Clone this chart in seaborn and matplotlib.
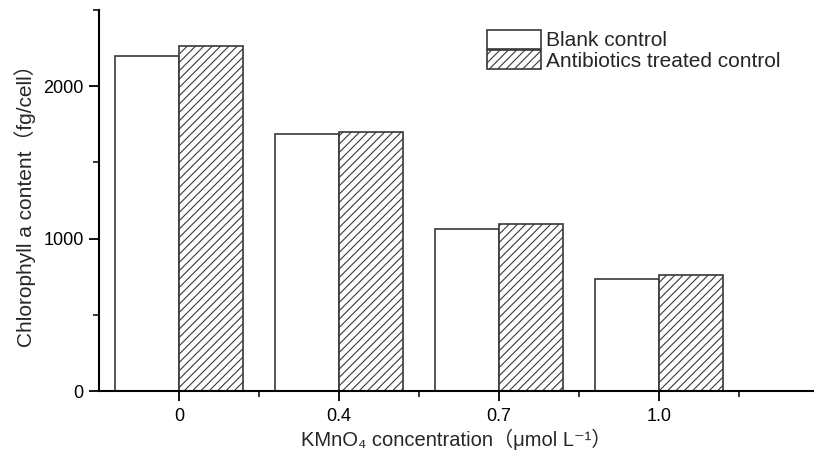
import matplotlib
matplotlib.use("Agg")
import matplotlib.pyplot as plt
from matplotlib.patches import Patch
from matplotlib.ticker import FixedLocator
import seaborn as sns
import pandas as pd

concentrations = ["0", "0.4", "0.7", "1.0"]
blank_control = [2195, 1687, 1064, 733]
antibiotics_control = [2265, 1697, 1096, 760]
series_names = ["Blank control", "Antibiotics treated control"]

sns.set_style("ticks")
plt.rcParams["font.family"] = ["Liberation Sans", "Noto Sans CJK SC", "DejaVu Sans"]
plt.rcParams["hatch.color"] = "#555555"
plt.rcParams["hatch.linewidth"] = 0.8

df = pd.DataFrame({
    "conc": concentrations * 2,
    "value": blank_control + antibiotics_control,
    "group": [series_names[0]] * 4 + [series_names[1]] * 4,
})

W, H = 814, 459
fig = plt.figure(figsize=(W / 100, H / 100), dpi=100)
ax = fig.add_axes([99 / W, 1 - 391 / H, (W - 99) / W, (391 - 10) / H])

edge = "#383838"
sns.barplot(data=df, x="conc", y="value", hue="group", order=concentrations,
            hue_order=series_names, palette=["white", "white"], edgecolor=edge,
            linewidth=1.2, width=0.8, gap=0, legend=False, ax=ax, errorbar=None)

n = len(concentrations)
for i, p in enumerate(ax.patches[:2 * n]):
    if i >= n:
        p.set_hatch("////")

ax.set_xlim(-0.5, 3.97)
ax.set_ylim(0, 2500)
ax.yaxis.set_major_locator(FixedLocator([0, 1000, 2000]))
ax.yaxis.set_minor_locator(FixedLocator([500, 1500, 2500]))
ax.xaxis.set_minor_locator(FixedLocator([0.5, 1.5, 2.5, 3.5]))

for s in ["top", "right"]:
    ax.spines[s].set_visible(False)
for s in ["left", "bottom"]:
    ax.spines[s].set_linewidth(1.5)
    ax.spines[s].set_color("black")

ax.tick_params(axis="both", which="major", direction="out", length=7, width=1.3,
               labelsize=13, pad=4, colors="black")
ax.tick_params(axis="both", which="minor", direction="out", length=4, width=1.3)
ax.tick_params(axis="x", which="major", pad=5)

ax.set_ylabel("Chlorophyll a content（fg/cell）", fontsize=15, labelpad=5)
ax.set_xlabel("KMnO₄ concentration（μmol L⁻¹）", fontsize=14.5, labelpad=3)

handles = [Patch(facecolor="white", edgecolor=edge, linewidth=1.2),
           Patch(facecolor="white", edgecolor=edge, linewidth=1.2, hatch="////")]
fig.legend(handles, series_names, loc="upper left",
           bbox_to_anchor=(487 / W, 1 - 30 / H), bbox_transform=fig.transFigure,
           frameon=False, fontsize=15, handlelength=2.6, handleheight=1.0,
           handletextpad=0.25, labelspacing=0.0, borderpad=0, borderaxespad=0)

fig.savefig("out.png", dpi=100)
